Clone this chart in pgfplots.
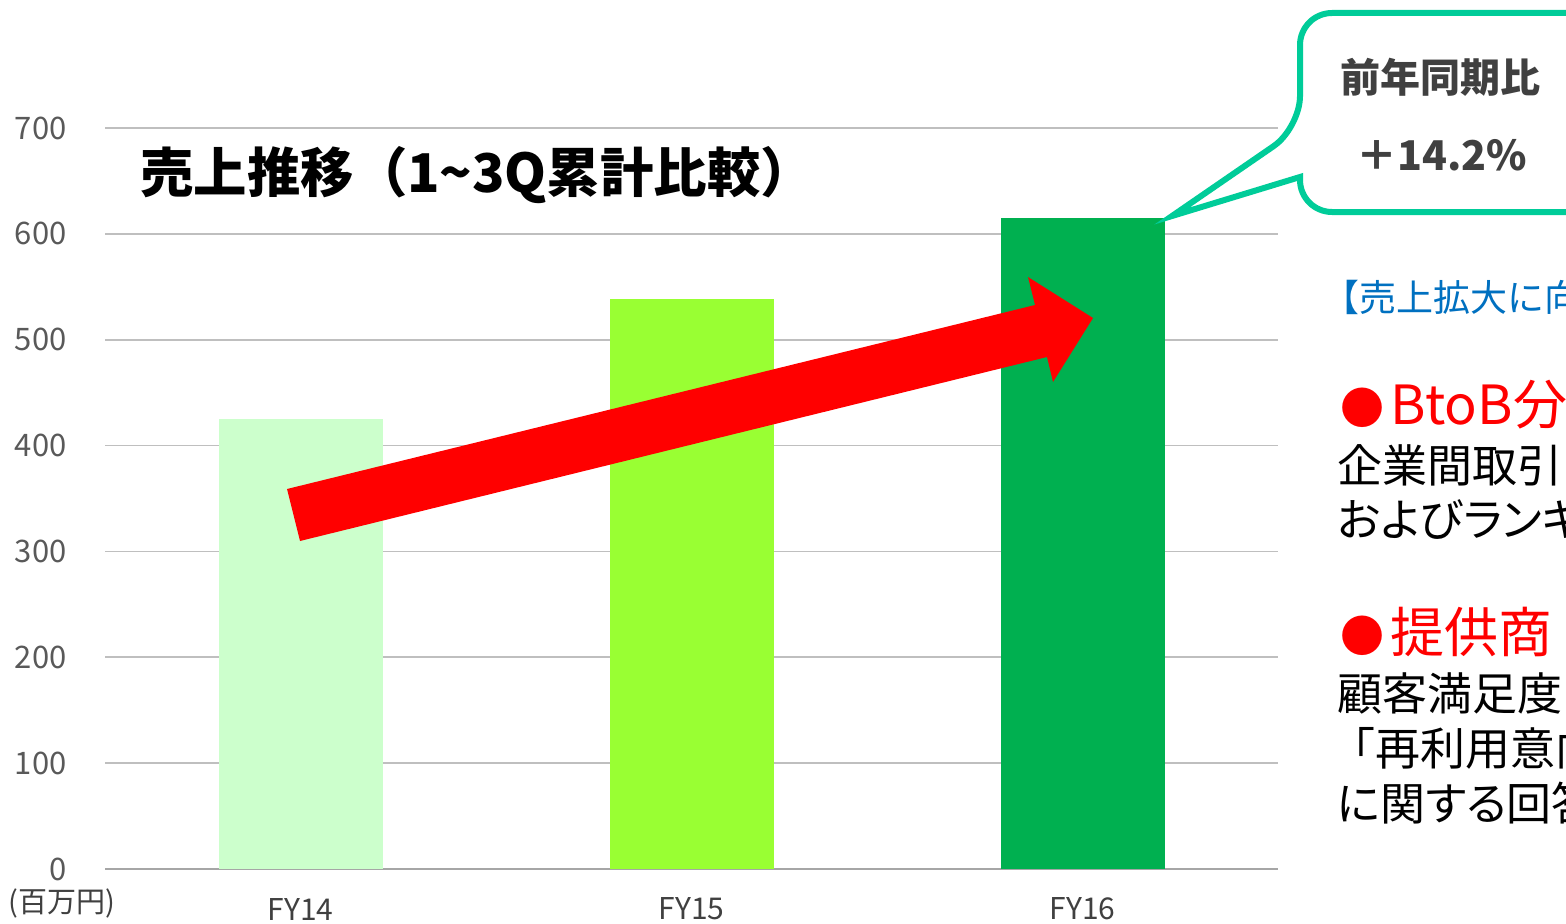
\documentclass[border=0pt]{standalone}
\usepackage{pgfplots}
\pgfplotsset{compat=1.18}
\usepackage{fontspec}
\setmainfont{Noto Sans CJK JP}
\newfontfamily\paltfont[RawFeature=+palt]{Noto Sans CJK JP}
\definecolor{barA}{HTML}{CCFFCC}
\definecolor{barB}{HTML}{99FF33}
\definecolor{barC}{HTML}{00B050}
\definecolor{gridc}{HTML}{BFBFBF}
\definecolor{axisc}{HTML}{A6A6A6}
\definecolor{tickc}{HTML}{595959}
\definecolor{darkt}{HTML}{404040}
\definecolor{callc}{HTML}{00CC99}
\definecolor{bluet}{HTML}{0070C0}
\begin{document}
\begin{tikzpicture}
\clip (0,0) rectangle (783pt,461.5pt);
\begin{axis}[at={(52.5pt,27pt)}, anchor=south west, scale only axis,
  width=586.5pt, height=370.5pt,
  xmin=0.5, xmax=3.5, ymin=0, ymax=700,
  ytick={0,100,200,300,400,500,600,700},
  xtick={1,2,3}, xticklabels={FY14,FY15,FY16},
  axis x line*=bottom, axis y line*=left,
  y axis line style={draw=none},
  x axis line style={draw=axisc, line width=1.3pt},
  major tick length=0pt,
  ymajorgrids, grid style={draw=gridc, line width=0.9pt},
  /pgf/number format/assume math mode=true,
  yticklabel style={font=\fontsize{15.5}{15.5}\selectfont, text=tickc, anchor=east, inner sep=0pt, xshift=-19pt},
  xticklabel style={font=\fontsize{15}{15}\selectfont, text=darkt, anchor=center, inner sep=0pt, yshift=-20pt},
  clip=false]
\addplot[ybar, bar width=82pt, fill=barA, draw=none] coordinates {(1,425)};
\addplot[ybar, bar width=82pt, fill=barB, draw=none] coordinates {(2,538)};
\addplot[ybar, bar width=82pt, fill=barC, draw=none] coordinates {(3,615)};
\end{axis}
\begin{scope}[x=0.5pt, y=-0.5pt, yshift=461.5pt]
% arrow
\fill[red] (287,489) -- (1035,305) -- (1028,277) -- (1093,318) -- (1053,382) -- (1047,357) -- (300,541) -- cycle;
% callout
\draw[callc, line width=3pt, fill=white, rounded corners=16pt] (1660,13) -- (1300,13) -- (1300,128) [sharp corners] -- (1172,216) -- (1300,177) [rounded corners=16pt] -- (1300,212) -- (1660,212);
\node[text=darkt, font=\fontsize{20}{20}\selectfont\bfseries] at (1440,77) {前年同期比};
\node[text=darkt, font=\fontsize{20.5}{20.5}\selectfont\bfseries] at (1442,155) {＋14.2\%};
% title
\node[anchor=west, inner sep=0pt, font=\fontsize{26.7}{26.7}\selectfont\bfseries] at (140,175) {売上推移（1\textasciitilde 3Q累計比較）};
% unit
\node[text=darkt, font=\fontsize{14.5}{14.5}\selectfont, inner sep=0pt] at (62,903) {(百万円)};
% right text
\node[anchor=west, inner sep=0pt, text=bluet, font=\fontsize{18.5}{18.5}\selectfont] at (1322,297) {【売上拡大に向};
\node[anchor=west, inner sep=0pt, text=red, font=\fontsize{27}{27}\selectfont] at (1340,405) {{\fontsize{22}{22}\selectfont ●}\hspace{3pt}BtoB分};
\node[anchor=west, inner sep=0pt, font=\fontsize{22.5}{22.5}\selectfont] at (1337,465) {企業間取引};
\node[anchor=west, inner sep=0pt, font=\fontsize{22.5}{22.5}\paltfont] at (1337,520) {およびランキン};
\node[anchor=west, inner sep=0pt, text=red, font=\fontsize{27}{27}\selectfont] at (1340,632) {{\fontsize{22}{22}\selectfont ●}\hspace{3pt}提供商};
\node[anchor=west, inner sep=0pt, font=\fontsize{22.5}{22.5}\selectfont] at (1337,693) {顧客満足度};
\node[anchor=west, inner sep=0pt, font=\fontsize{22.5}{22.5}\selectfont] at (1330,748) {「再利用意向};
\node[anchor=west, inner sep=0pt, font=\fontsize{22.5}{22.5}\paltfont] at (1337,803) {に関する回答};
\end{scope}
\end{tikzpicture}
\end{document}
